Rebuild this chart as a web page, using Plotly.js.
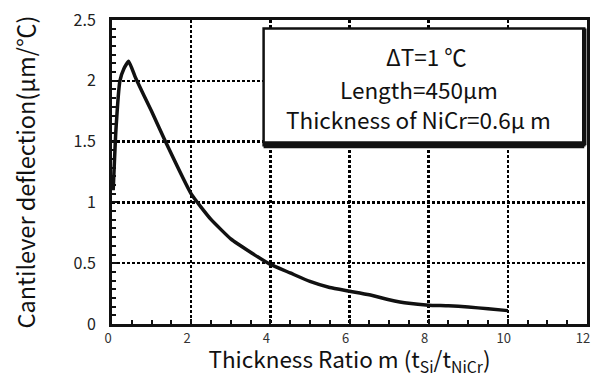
<!DOCTYPE html>
<html>
<head>
<meta charset="utf-8">
<script src="https://cdn.plot.ly/plotly-3.0.1.min.js"></script>
<style>html,body{margin:0;padding:0;background:#fff;}#chart{width:593px;height:378px;}</style>
</head>
<body>
<div id="chart"></div>
<script>
const thicknessRatio = [0.03, 0.1, 0.2, 0.3, 0.42, 0.6, 1.0, 1.35, 2.0, 2.5, 3.0, 3.5, 4.0, 4.5, 5.0, 5.5, 6.0, 6.5, 7.0, 7.5, 8.0, 8.5, 9.0, 9.5, 10.0];
const deflection     = [1.1, 1.6, 2.0, 2.1, 2.16, 2.02, 1.75, 1.5, 1.07, 0.86, 0.70, 0.59, 0.49, 0.42, 0.35, 0.30, 0.27, 0.24, 0.20, 0.17, 0.155, 0.15, 0.14, 0.125, 0.11];
const xTicks = [0, 2, 4, 6, 8, 10, 12];
const yTicks = [0, 0.5, 1, 1.5, 2, 2.5];
const yTickText = ['0', '0.5', '1', '1.5', '2', '2.5'];
const boxLines = ['ΔT=1 ℃', 'Length=450μm', 'Thickness of NiCr=0.6μ m'];

const FONT = '"Noto Sans CJK JP", "Noto Sans", sans-serif';

const trace = {
  x: thicknessRatio, y: deflection, type: 'scatter', mode: 'lines',
  line: {color: '#111', width: 3.5, shape: 'spline', smoothing: 0.4},
  hoverinfo: 'skip', showlegend: false
};

const layout = {
  width: 593, height: 378,
  margin: {l: 112, r: 6, t: 20, b: 54},
  paper_bgcolor: '#fff', plot_bgcolor: '#fff',
  font: {family: FONT, color: '#222'},
  xaxis: {
    range: [0, 12], tickvals: xTicks, ticktext: xTicks.map(String),
    ticks: 'inside', ticklen: 5, tickwidth: 2, tickcolor: '#111',
    minor: {dtick: 0.5, ticks: 'inside', ticklen: 4, tickwidth: 2, tickcolor: '#111', showgrid: false},
    showgrid: true, gridcolor: '#000', gridwidth: 2.5, griddash: '3px,2px',
    zeroline: false, showline: true, linecolor: '#111', linewidth: 3, mirror: true,
    ticklabeloverflow: 'allow', ticklabelshift: -4,
    tickfont: {size: 13, color: '#333', family: FONT},
    title: {text: 'Thickness Ratio m (t<sub>Si</sub>/t<sub>NiCr</sub>)', font: {size: 22.5, color: '#111', family: FONT}, standoff: 8}
  },
  yaxis: {
    range: [0, 2.5], tickvals: yTicks, ticktext: yTickText,
    ticks: 'inside', ticklen: 5, tickwidth: 2, tickcolor: '#111',
    minor: {tick0: 0, dtick: 0.5/7, ticks: 'inside', ticklen: 4, tickwidth: 2, tickcolor: '#111', showgrid: false},
    showgrid: true, gridcolor: '#000', gridwidth: 2.5, griddash: '3px,2px',
    zeroline: false, showline: true, linecolor: '#111', linewidth: 3, mirror: true,
    ticklabeloverflow: 'allow', ticklabelstandoff: 10,
    tickfont: {size: 16, color: '#222', family: FONT},
    title: {text: 'Cantilever deflection(μm/℃)', font: {size: 23.5, color: '#111', family: FONT}, standoff: 32}
  },
  shapes: [
    {type: 'rect', xref: 'x', yref: 'y', x0: 3.83, x1: 11.93, y0: 1.47, y1: 2.43,
     fillcolor: '#fff', line: {color: '#111', width: 2.5}, layer: 'above'},
    {type: 'line', xref: 'x', yref: 'y', x0: 3.83, x1: 11.93, y0: 1.475, y1: 1.475,
     line: {color: '#111', width: 7}, layer: 'above'},
    {type: 'line', xref: 'x', yref: 'y', x0: 11.93, x1: 11.93, y0: 1.47, y1: 2.43,
     line: {color: '#111', width: 4.5}, layer: 'above'}
  ],
  annotations: boxLines.map((t, i) => ({
    xref: 'x', yref: 'y', x: 7.75, y: [2.2, 1.93, 1.69][i], text: t, showarrow: false,
    xshift: i === 0 ? 8 : 0,
    font: {size: 22.5, color: '#111', family: FONT}, xanchor: 'center', yanchor: 'middle'
  }))
};

Plotly.newPlot('chart', [trace], layout, {staticPlot: true, displayModeBar: false});
</script>
</body>
</html>
